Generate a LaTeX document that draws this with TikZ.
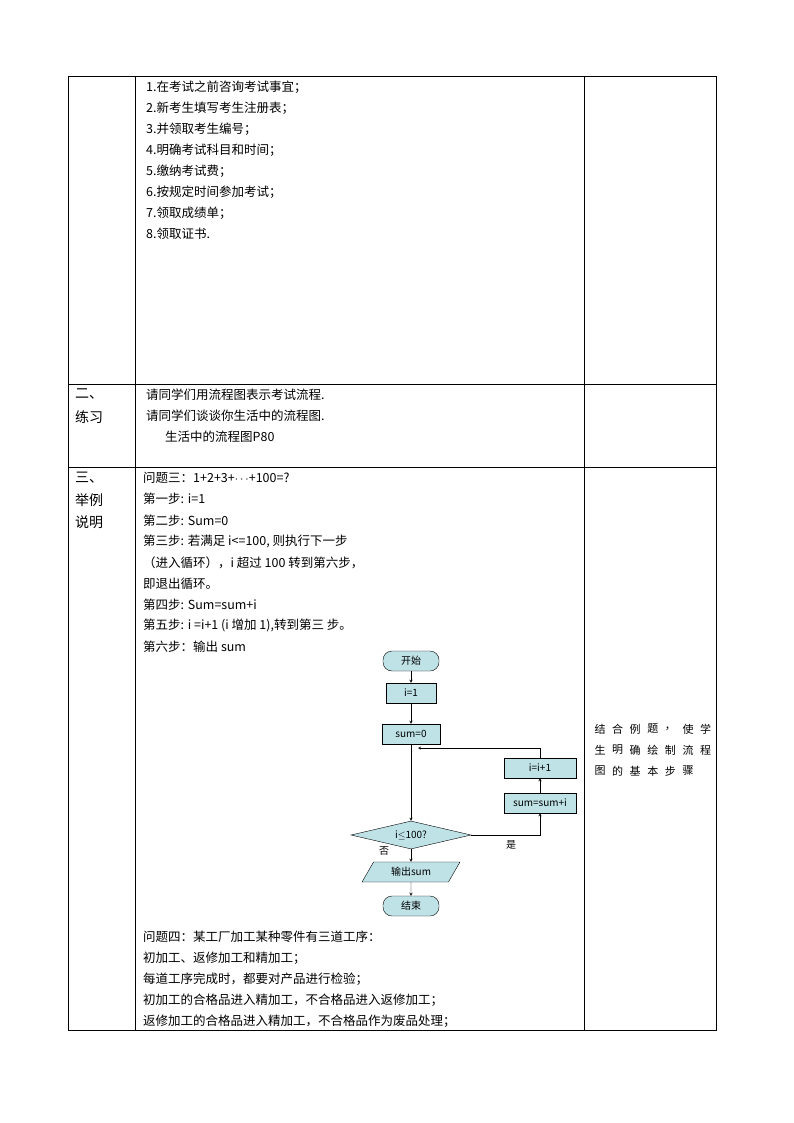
\documentclass[tikz,border=0pt]{standalone}
\usepackage{fontspec}
\setmainfont{Noto Sans CJK SC}
\usetikzlibrary{shapes.geometric}
\definecolor{fc}{RGB}{191,226,231}
\begin{document}
\begin{tikzpicture}[x=1pt,y=-1pt,font=\fontsize{12.5}{14}\selectfont,
 t/.style={anchor=west,inner sep=0pt},
 lab/.style={anchor=west,inner sep=0pt,font=\fontsize{14}{16}\selectfont},
 box/.style={draw,fill=fc,minimum height=20pt,inner sep=1pt,font=\fontsize{10}{12}\selectfont},
 term/.style={box,rounded corners=9pt},
 ar/.style={->,>=stealth}]
\useasboundingbox (0,0) rectangle (794,1123);
\draw (68,76) rectangle (716,1030);
\draw (135,76)--(135,1030) (584,76)--(584,1030);
\draw (68,384)--(716,384) (68,467)--(716,467);
\foreach \s [count=\i] in {1.在考试之前咨询考试事宜；,2.新考生填写考生注册表；,3.并领取考生编号；,4.明确考试科目和时间；,5.缴纳考试费；,6.按规定时间参加考试；,7.领取成绩单；,8.领取证书.}
  \node[t] (a\i) at (146,66+21*\i) {\s};
\node[t] (b1) at (146,395) {请同学们用流程图表示考试流程.};
\node[t] (b2) at (146,416) {请同学们谈谈你生活中的流程图.};
\node[t] (b3) at (165,437) {生活中的流程图P80};
\node[lab] (l1) at (75,394) {二、};
\node[lab] (l2) at (75,417) {练习};
\node[lab] (l3) at (75,478) {三、};
\node[lab] (l4) at (75,500) {举例};
\node[lab] (l5) at (75,522) {说明};
\foreach \s [count=\i] in {问题三：1+2+3+$\cdots$+100=?,第一步: i=1,第二步: Sum=0,{第三步:  若满足 i<=100, 则执行下一步},（进入循环），i 超过 100 转到第六步，,即退出循环。,第四步: Sum=sum+i,{第五步: i =i+1 (i 增加 1),转到第三  步。},第六步：输出 sum}
  \node[t] (c\i) at (143,457+21.1*\i) {\s};
\foreach \s [count=\i] in {问题四：某工厂加工某种零件有三道工序：,初加工、返修加工和精加工；,每道工序完成时，都要对产品进行检验；,初加工的合格品进入精加工，不合格品进入返修加工；,返修加工的合格品进入精加工，不合格品作为废品处理；}
  \node[t] (d\i) at (143,916+21*\i) {\s};
\foreach \ch [count=\i] in {结,合,例,题,，,使,学} \node[inner sep=0pt,font=\fontsize{11}{13}\selectfont] (r1\i) at (600+17.6*\i-17.6,729) {\ch};
\foreach \ch [count=\i] in {生,明,确,绘,制,流,程} \node[inner sep=0pt,font=\fontsize{11}{13}\selectfont] (r2\i) at (600+17.6*\i-17.6,750) {\ch};
\foreach \ch [count=\i] in {图,的,基,本,步,骤} \node[inner sep=0pt,font=\fontsize{11}{13}\selectfont] (r3\i) at (600+17.6*\i-17.6,771) {\ch};
% flowchart
\node[term,minimum width=56pt] (st) at (411,661) {开始};
\node[box,minimum width=50pt] (i1) at (411,693) {i=1};
\node[box,minimum width=58pt] (s0) at (411,734) {sum=0};
\node[box,minimum width=72pt] (inc) at (540,768) {i=i+1};
\node[box,minimum width=72pt] (add) at (540,803) {sum=sum+i};
\node[draw,fill=fc,diamond,aspect=4.3,minimum width=120pt,minimum height=28pt,inner sep=0pt,font=\fontsize{10}{12}\selectfont] (dec) at (411,835) {i$\le$100?};
\node[draw,fill=fc,trapezium,trapezium left angle=60,trapezium right angle=120,minimum width=86pt,minimum height=20pt,inner sep=1pt,font=\fontsize{10}{12}\selectfont] (out) at (411,872) {输出sum};
\node[term,minimum width=56pt] (en) at (411,906) {结束};
\coordinate (m) at (418,748);
\draw[ar] (st)--(i1);
\draw[ar] (i1)--(s0);
\draw[ar] (s0)--(dec);
\draw[ar] (dec.east)-|(add.south);
\draw[ar] (add)--(inc);
\draw[ar] (inc.north)|-(m);
\draw[ar] (dec)--(out);
\draw[ar] (out)--(en);
\node[font=\fontsize{10}{12}\selectfont] (yes) at (511,845) {是};
\node[font=\fontsize{10}{12}\selectfont] (no) at (384,851) {否};
\end{tikzpicture}
\end{document}
